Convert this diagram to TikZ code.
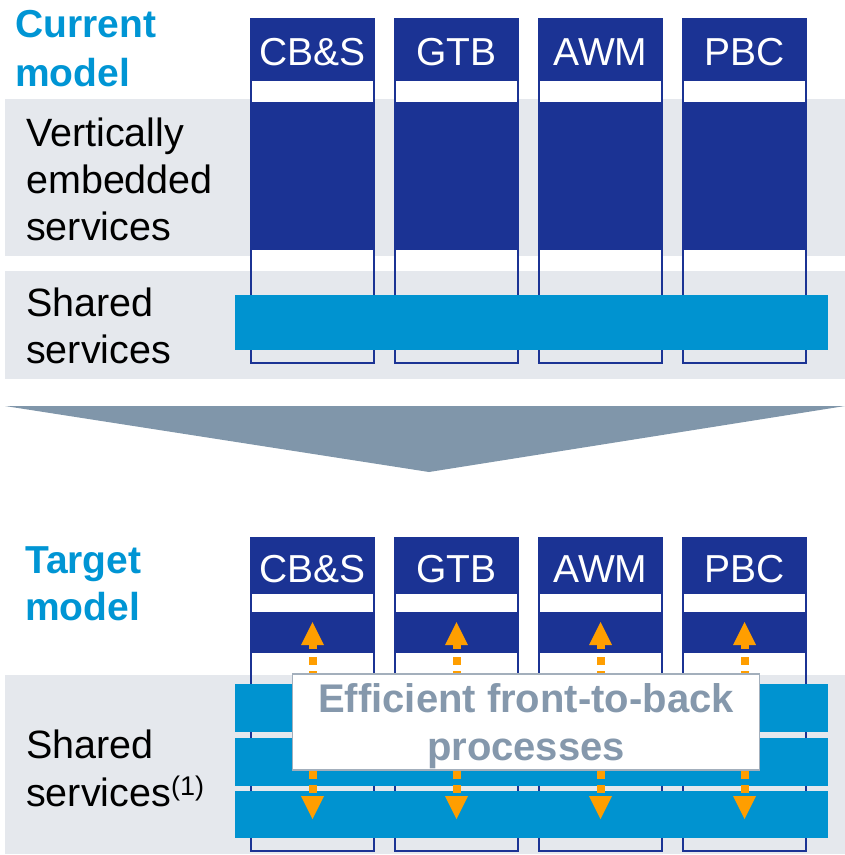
\documentclass[tikz,border=0pt]{standalone}
\usepackage{fontspec}
\setmainfont{Liberation Sans}
\definecolor{dkblue}{HTML}{1B3394}
\definecolor{cyanbar}{HTML}{0093D0}
\definecolor{cyantxt}{HTML}{0095D4}
\definecolor{band}{HTML}{E5E8ED}
\definecolor{tri}{HTML}{8096AA}
\definecolor{txtgrey}{HTML}{8598AC}
\definecolor{arrorange}{HTML}{FF9E00}
\definecolor{boxline}{HTML}{A3AFBC}
\begin{document}
\begin{tikzpicture}[x=1pt,y=-1pt,
  bigfont/.style={font=\fontsize{39.5}{47}\selectfont},
  lefttext/.style={bigfont, anchor=base west, inner sep=0pt, text=black},
  modeltext/.style={font=\fontsize{39}{47}\selectfont\bfseries, anchor=base west, inner sep=0pt, text=cyantxt},
  header/.style={fill=dkblue, text=white, font=\fontsize{39}{47}\selectfont, inner sep=0pt,
    minimum width=125pt, minimum height=#1, text depth=0pt},
  colline/.style={draw=dkblue, line width=2.2pt},
  bar/.style={fill=cyanbar},
  shaft/.style={draw=arrorange, line width=8pt, dash pattern=on 8pt off 6.25pt},
  effbox/.style={draw=boxline, line width=1.5pt, fill=white, inner sep=0pt,
    minimum width=467pt, minimum height=96pt},
  efftext/.style={font=\fontsize{40}{48}\selectfont\bfseries, text=txtgrey,
    anchor=base, inner sep=0pt}
]
\useasboundingbox (0,0) rectangle (845,855);

% ---------- current model ----------
\fill[band] (5,99) rectangle (845,256);
\fill[band] (5,271) rectangle (845,379);

\node[modeltext] (cur1) at (15,37) {Current};
\node[modeltext] (cur2) at (15,86) {model};
\node[lefttext] (ves1) at (26,146) {Vertically};
\node[lefttext] (ves2) at (26,193) {embedded};
\node[lefttext] (ves3) at (26,240) {services};
\node[lefttext] (ss1) at (26,316) {Shared};
\node[lefttext] (ss2) at (26,363) {services};

\foreach \lbl/\x [count=\i] in {CB\&S/250, GTB/394, AWM/538, PBC/682}{
  \fill[white] (\x,80) rectangle (\x+125,256);
  \fill[dkblue] (\x,102) rectangle (\x+125,250);
  \draw[colline] (\x+1.1,80) rectangle (\x+123.9,363);
  \node[header=62pt, text height=32pt] (hu\i) at (\x+62.5,49) {\lbl};
}
\fill[bar] (235,295) rectangle (828,350);

% ---------- transition arrow ----------
\fill[tri] (5,406) -- (845,406) -- (429,472) -- cycle;

% ---------- target model ----------
\fill[band] (5,675) rectangle (845,854);

\node[modeltext] (tgt1) at (25,573) {Target};
\node[modeltext] (tgt2) at (25,620) {model};
\node[lefttext] (tss1) at (26,758) {Shared};
\node[lefttext] (tss2) at (26,806) {services\raisebox{11pt}{\fontsize{27}{27}\selectfont(1)}};

\foreach \lbl/\x [count=\i] in {CB\&S/250, GTB/394, AWM/538, PBC/682}{
  \fill[dkblue] (\x,612) rectangle (\x+125,653);
  \draw[colline] (\x+1.1,593) rectangle (\x+123.9,851);
  \node[header=56pt, text height=34pt] (hl\i) at (\x+62.5,565) {\lbl};
}
\fill[bar] (235,684) rectangle (828,732);
\fill[bar] (235,738) rectangle (828,786);
\fill[bar] (235,791) rectangle (828,838);

% front-to-back arrows in each column
\foreach \cx in {312.5,456.5,600.5,744.5}{
  \coordinate (top) at (\cx,657);
  \coordinate (bot) at (\cx,793.25);
  \draw[shaft] (top) -- (bot);
  \fill[arrorange] (\cx-11.5,645) -- (\cx,622) -- (\cx+11.5,645) -- cycle;
  \fill[arrorange] (\cx-4,644) rectangle (\cx+4,649);
  \fill[arrorange] (\cx-11.5,796) -- (\cx,819) -- (\cx+11.5,796) -- cycle;
}

\node[effbox] (eff) at (526,722) {};
\node[efftext] (eff1) at (526,712) {Efficient front-to-back};
\node[efftext] (eff2) at (526,760) {processes};
\end{tikzpicture}
\end{document}
